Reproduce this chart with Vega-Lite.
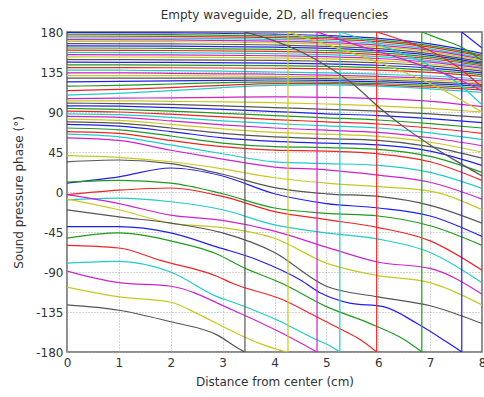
{
"$schema":"https://vega.github.io/schema/vega-lite/v6.json",
"width":415,"height":320,
"autosize":{"type":"none"},
"padding":{"left":67,"top":32,"right":2,"bottom":45},
"background":"white",
"title":{"text":"Empty waveguide, 2D, all frequencies","fontSize":12,"fontWeight":"normal","font":"DejaVu Sans","color":"#333333","offset":4},
"config":{
 "view":{"stroke":"#666666","strokeWidth":1.5},
 "axis":{"domain":false,"ticks":false,"grid":true,"gridColor":"#aaaaaa","gridDash":[1,2],"gridWidth":1,
  "labelFont":"DejaVu Sans","labelFontSize":12,"labelColor":"#333333",
  "titleFont":"DejaVu Sans","titleFontSize":12,"titleFontWeight":"normal","titleColor":"#333333"}
},
"data":{"values":[
{"k":0,"p":"a","x":0,"y":179.5},{"k":0,"p":"a","x":2,"y":179},{"k":0,"p":"a","x":4,"y":177.6},{"k":0,"p":"a","x":5,"y":176},{"k":0,"p":"a","x":6,"y":172.9},{"k":0,"p":"a","x":7,"y":166.6},{"k":0,"p":"a","x":8,"y":156},
{"k":1,"p":"a","x":0,"y":177.5},{"k":1,"p":"a","x":2,"y":177},{"k":1,"p":"a","x":4,"y":175.6},{"k":1,"p":"a","x":5,"y":174},{"k":1,"p":"a","x":6,"y":170.9},{"k":1,"p":"a","x":7,"y":164.6},{"k":1,"p":"a","x":8,"y":154},
{"k":2,"p":"a","x":0,"y":175.5},{"k":2,"p":"a","x":2,"y":175},{"k":2,"p":"a","x":4,"y":173.7},{"k":2,"p":"a","x":5,"y":172.1},{"k":2,"p":"a","x":6,"y":169.1},{"k":2,"p":"a","x":7,"y":162.9},{"k":2,"p":"a","x":8,"y":152.5},
{"k":3,"p":"a","x":0,"y":173.5},{"k":3,"p":"a","x":2,"y":173.1},{"k":3,"p":"a","x":4,"y":171.7},{"k":3,"p":"a","x":5,"y":170.1},{"k":3,"p":"a","x":6,"y":167.2},{"k":3,"p":"a","x":7,"y":161.1},{"k":3,"p":"a","x":8,"y":151},
{"k":4,"p":"a","x":0,"y":171.5},{"k":4,"p":"a","x":2,"y":171.1},{"k":4,"p":"a","x":4,"y":169.7},{"k":4,"p":"a","x":5,"y":168.2},{"k":4,"p":"a","x":6,"y":165.3},{"k":4,"p":"a","x":7,"y":159.4},{"k":4,"p":"a","x":8,"y":149.5},
{"k":5,"p":"a","x":0,"y":169.5},{"k":5,"p":"a","x":2,"y":169.1},{"k":5,"p":"a","x":4,"y":167.8},{"k":5,"p":"a","x":5,"y":166.3},{"k":5,"p":"a","x":6,"y":163.5},{"k":5,"p":"a","x":7,"y":157.7},{"k":5,"p":"a","x":8,"y":148},
{"k":6,"p":"a","x":0,"y":167},{"k":6,"p":"a","x":2,"y":166.6},{"k":6,"p":"a","x":4,"y":165.4},{"k":6,"p":"a","x":5,"y":163.9},{"k":6,"p":"a","x":6,"y":161.3},{"k":6,"p":"a","x":7,"y":155.7},{"k":6,"p":"a","x":8,"y":146.5},
{"k":7,"p":"a","x":0,"y":164.5},{"k":7,"p":"a","x":2,"y":164.1},{"k":7,"p":"a","x":4,"y":162.9},{"k":7,"p":"a","x":5,"y":161.6},{"k":7,"p":"a","x":6,"y":159},{"k":7,"p":"a","x":7,"y":153.8},{"k":7,"p":"a","x":8,"y":145},
{"k":8,"p":"a","x":0,"y":162},{"k":8,"p":"a","x":2,"y":161.6},{"k":8,"p":"a","x":4,"y":160.5},{"k":8,"p":"a","x":5,"y":159.2},{"k":8,"p":"a","x":6,"y":156.8},{"k":8,"p":"a","x":7,"y":151.8},{"k":8,"p":"a","x":8,"y":143.5},
{"k":9,"p":"a","x":0,"y":159.5},{"k":9,"p":"a","x":2,"y":159.2},{"k":9,"p":"a","x":4,"y":158.1},{"k":9,"p":"a","x":5,"y":156.9},{"k":9,"p":"a","x":6,"y":154.6},{"k":9,"p":"a","x":7,"y":149.9},{"k":9,"p":"a","x":8,"y":142},
{"k":10,"p":"a","x":0,"y":157},{"k":10,"p":"a","x":2,"y":156.7},{"k":10,"p":"a","x":4,"y":155.7},{"k":10,"p":"a","x":5,"y":154.5},{"k":10,"p":"a","x":6,"y":152.4},{"k":10,"p":"a","x":7,"y":147.9},{"k":10,"p":"a","x":8,"y":140.5},
{"k":11,"p":"a","x":0,"y":154.5},{"k":11,"p":"a","x":2,"y":154.2},{"k":11,"p":"a","x":4,"y":153.3},{"k":11,"p":"a","x":5,"y":152.2},{"k":11,"p":"a","x":6,"y":150.2},{"k":11,"p":"a","x":7,"y":146},{"k":11,"p":"a","x":8,"y":139},
{"k":12,"p":"a","x":0,"y":152},{"k":12,"p":"a","x":2,"y":151.7},{"k":12,"p":"a","x":4,"y":150.8},{"k":12,"p":"a","x":5,"y":149.8},{"k":12,"p":"a","x":6,"y":147.9},{"k":12,"p":"a","x":7,"y":144},{"k":12,"p":"a","x":8,"y":137.5},
{"k":13,"p":"a","x":0,"y":149},{"k":13,"p":"a","x":2,"y":148.7},{"k":13,"p":"a","x":4,"y":148},{"k":13,"p":"a","x":5,"y":147.1},{"k":13,"p":"a","x":6,"y":145.4},{"k":13,"p":"a","x":7,"y":141.9},{"k":13,"p":"a","x":8,"y":136},
{"k":14,"p":"a","x":0,"y":146},{"k":14,"p":"a","x":2,"y":145.8},{"k":14,"p":"a","x":4,"y":145},{"k":14,"p":"a","x":5,"y":144.2},{"k":14,"p":"a","x":6,"y":142.6},{"k":14,"p":"a","x":7,"y":139.4},{"k":14,"p":"a","x":8,"y":134},
{"k":15,"p":"a","x":0,"y":143},{"k":15,"p":"a","x":2,"y":142.8},{"k":15,"p":"a","x":4,"y":142.1},{"k":15,"p":"a","x":5,"y":141.4},{"k":15,"p":"a","x":6,"y":139.9},{"k":15,"p":"a","x":7,"y":137},{"k":15,"p":"a","x":8,"y":132},
{"k":16,"p":"a","x":0,"y":140},{"k":16,"p":"a","x":2,"y":139.8},{"k":16,"p":"a","x":4,"y":139.2},{"k":16,"p":"a","x":5,"y":138.5},{"k":16,"p":"a","x":6,"y":137.2},{"k":16,"p":"a","x":7,"y":134.5},{"k":16,"p":"a","x":8,"y":130},
{"k":17,"p":"a","x":0,"y":137},{"k":17,"p":"a","x":1,"y":137},{"k":17,"p":"a","x":2,"y":136.5},{"k":17,"p":"a","x":3,"y":136},{"k":17,"p":"a","x":4,"y":135},{"k":17,"p":"a","x":5,"y":134},{"k":17,"p":"a","x":6,"y":132.5},{"k":17,"p":"a","x":7,"y":130.5},{"k":17,"p":"a","x":8,"y":127},
{"k":18,"p":"a","x":0,"y":134},{"k":18,"p":"a","x":1,"y":134},{"k":18,"p":"a","x":2,"y":133.5},{"k":18,"p":"a","x":3,"y":133},{"k":18,"p":"a","x":4,"y":132.5},{"k":18,"p":"a","x":5,"y":131.5},{"k":18,"p":"a","x":6,"y":130},{"k":18,"p":"a","x":7,"y":128},{"k":18,"p":"a","x":8,"y":125},
{"k":19,"p":"a","x":0,"y":131},{"k":19,"p":"a","x":1,"y":131},{"k":19,"p":"a","x":2,"y":131},{"k":19,"p":"a","x":3,"y":130.5},{"k":19,"p":"a","x":4,"y":130},{"k":19,"p":"a","x":5,"y":129.5},{"k":19,"p":"a","x":6,"y":128},{"k":19,"p":"a","x":7,"y":126},{"k":19,"p":"a","x":8,"y":123},
{"k":20,"p":"a","x":0,"y":128},{"k":20,"p":"a","x":1,"y":128},{"k":20,"p":"a","x":2,"y":128},{"k":20,"p":"a","x":3,"y":128},{"k":20,"p":"a","x":4,"y":128},{"k":20,"p":"a","x":5,"y":127.5},{"k":20,"p":"a","x":6,"y":126},{"k":20,"p":"a","x":7,"y":124},{"k":20,"p":"a","x":8,"y":121},
{"k":21,"p":"a","x":0,"y":124},{"k":21,"p":"a","x":1,"y":124.5},{"k":21,"p":"a","x":2,"y":125},{"k":21,"p":"a","x":3,"y":125.5},{"k":21,"p":"a","x":4,"y":126},{"k":21,"p":"a","x":5,"y":125.5},{"k":21,"p":"a","x":6,"y":124},{"k":21,"p":"a","x":7,"y":122},{"k":21,"p":"a","x":8,"y":119},
{"k":22,"p":"a","x":0,"y":119},{"k":22,"p":"a","x":1,"y":120},{"k":22,"p":"a","x":2,"y":121.5},{"k":22,"p":"a","x":3,"y":123},{"k":22,"p":"a","x":4,"y":124},{"k":22,"p":"a","x":5,"y":123.5},{"k":22,"p":"a","x":6,"y":122},{"k":22,"p":"a","x":7,"y":120},{"k":22,"p":"a","x":8,"y":117},
{"k":23,"p":"a","x":0,"y":114},{"k":23,"p":"a","x":1,"y":115.5},{"k":23,"p":"a","x":2,"y":117.5},{"k":23,"p":"a","x":3,"y":120},{"k":23,"p":"a","x":4,"y":122},{"k":23,"p":"a","x":5,"y":122},{"k":23,"p":"a","x":6,"y":120.5},{"k":23,"p":"a","x":7,"y":118},{"k":23,"p":"a","x":8,"y":115},
{"k":24,"p":"a","x":0,"y":109},{"k":24,"p":"a","x":1,"y":111},{"k":24,"p":"a","x":2,"y":114},{"k":24,"p":"a","x":3,"y":117.5},{"k":24,"p":"a","x":4,"y":120},{"k":24,"p":"a","x":5,"y":120.5},{"k":24,"p":"a","x":6,"y":119},{"k":24,"p":"a","x":7,"y":116},{"k":24,"p":"a","x":8,"y":112},
{"k":25,"p":"a","x":0,"y":105},{"k":25,"p":"a","x":1,"y":105.5},{"k":25,"p":"a","x":2,"y":106},{"k":25,"p":"a","x":3,"y":106.5},{"k":25,"p":"a","x":4,"y":107},{"k":25,"p":"a","x":5,"y":106.5},{"k":25,"p":"a","x":6,"y":105},{"k":25,"p":"a","x":7,"y":102},{"k":25,"p":"a","x":8,"y":96},
{"k":26,"p":"a","x":0,"y":102.5},{"k":26,"p":"a","x":1,"y":102.5},{"k":26,"p":"a","x":2,"y":102},{"k":26,"p":"a","x":3,"y":101.5},{"k":26,"p":"a","x":4,"y":100.5},{"k":26,"p":"a","x":5,"y":99},{"k":26,"p":"a","x":6,"y":97},{"k":26,"p":"a","x":7,"y":94},{"k":26,"p":"a","x":8,"y":90},
{"k":27,"p":"a","x":0,"y":100},{"k":27,"p":"a","x":1,"y":99.5},{"k":27,"p":"a","x":2,"y":98.5},{"k":27,"p":"a","x":3,"y":97},{"k":27,"p":"a","x":4,"y":95},{"k":27,"p":"a","x":5,"y":93},{"k":27,"p":"a","x":6,"y":91},{"k":27,"p":"a","x":7,"y":88},{"k":27,"p":"a","x":8,"y":84},
{"k":28,"p":"a","x":0,"y":97},{"k":28,"p":"a","x":1,"y":96.5},{"k":28,"p":"a","x":2,"y":95},{"k":28,"p":"a","x":3,"y":93},{"k":28,"p":"a","x":4,"y":90.5},{"k":28,"p":"a","x":5,"y":88},{"k":28,"p":"a","x":6,"y":86},{"k":28,"p":"a","x":7,"y":82.5},{"k":28,"p":"a","x":8,"y":78},
{"k":29,"p":"a","x":0,"y":94},{"k":29,"p":"a","x":1,"y":93},{"k":29,"p":"a","x":2,"y":91},{"k":29,"p":"a","x":3,"y":88.5},{"k":29,"p":"a","x":4,"y":86},{"k":29,"p":"a","x":5,"y":83.5},{"k":29,"p":"a","x":6,"y":81},{"k":29,"p":"a","x":7,"y":77},{"k":29,"p":"a","x":8,"y":72},
{"k":30,"p":"a","x":0,"y":91},{"k":30,"p":"a","x":1,"y":90},{"k":30,"p":"a","x":2,"y":87.5},{"k":30,"p":"a","x":3,"y":84.5},{"k":30,"p":"a","x":4,"y":81.5},{"k":30,"p":"a","x":5,"y":79},{"k":30,"p":"a","x":6,"y":76.5},{"k":30,"p":"a","x":7,"y":72},{"k":30,"p":"a","x":8,"y":66},
{"k":31,"p":"a","x":0,"y":88},{"k":31,"p":"a","x":1,"y":87},{"k":31,"p":"a","x":2,"y":84},{"k":31,"p":"a","x":3,"y":80},{"k":31,"p":"a","x":4,"y":77},{"k":31,"p":"a","x":5,"y":74.5},{"k":31,"p":"a","x":6,"y":72},{"k":31,"p":"a","x":7,"y":66.5},{"k":31,"p":"a","x":8,"y":59},
{"k":32,"p":"a","x":0,"y":85},{"k":32,"p":"a","x":1,"y":84},{"k":32,"p":"a","x":2,"y":80},{"k":32,"p":"a","x":3,"y":75.5},{"k":32,"p":"a","x":4,"y":72},{"k":32,"p":"a","x":5,"y":69.5},{"k":32,"p":"a","x":6,"y":67},{"k":32,"p":"a","x":7,"y":61},{"k":32,"p":"a","x":8,"y":52},
{"k":33,"p":"a","x":0,"y":82},{"k":33,"p":"a","x":1,"y":80.5},{"k":33,"p":"a","x":2,"y":76},{"k":33,"p":"a","x":3,"y":71},{"k":33,"p":"a","x":4,"y":67},{"k":33,"p":"a","x":5,"y":65},{"k":33,"p":"a","x":6,"y":62.5},{"k":33,"p":"a","x":7,"y":56},{"k":33,"p":"a","x":8,"y":45},
{"k":34,"p":"a","x":0,"y":79},{"k":34,"p":"a","x":1,"y":77.5},{"k":34,"p":"a","x":2,"y":72},{"k":34,"p":"a","x":3,"y":66},{"k":34,"p":"a","x":4,"y":62},{"k":34,"p":"a","x":5,"y":60},{"k":34,"p":"a","x":6,"y":58},{"k":34,"p":"a","x":7,"y":51},{"k":34,"p":"a","x":8,"y":38},
{"k":35,"p":"a","x":0,"y":76},{"k":35,"p":"a","x":1,"y":74},{"k":35,"p":"a","x":2,"y":68},{"k":35,"p":"a","x":3,"y":61},{"k":35,"p":"a","x":4,"y":57},{"k":35,"p":"a","x":5,"y":55},{"k":35,"p":"a","x":6,"y":53},{"k":35,"p":"a","x":7,"y":46},{"k":35,"p":"a","x":8,"y":30},
{"k":36,"p":"a","x":0,"y":72},{"k":36,"p":"a","x":1,"y":70},{"k":36,"p":"a","x":2,"y":63},{"k":36,"p":"a","x":3,"y":55},{"k":36,"p":"a","x":4,"y":51},{"k":36,"p":"a","x":5,"y":50},{"k":36,"p":"a","x":6,"y":48},{"k":36,"p":"a","x":7,"y":40},{"k":36,"p":"a","x":8,"y":22},
{"k":37,"p":"a","x":0,"y":68},{"k":37,"p":"a","x":1,"y":66},{"k":37,"p":"a","x":2,"y":58},{"k":37,"p":"a","x":3,"y":51},{"k":37,"p":"a","x":4,"y":47},{"k":37,"p":"a","x":5,"y":46},{"k":37,"p":"a","x":6,"y":43},{"k":37,"p":"a","x":7,"y":34},{"k":37,"p":"a","x":8,"y":13},
{"k":38,"p":"a","x":0,"y":65},{"k":38,"p":"a","x":1,"y":62},{"k":38,"p":"a","x":2,"y":53},{"k":38,"p":"a","x":3,"y":43},{"k":38,"p":"a","x":4,"y":34},{"k":38,"p":"a","x":5,"y":32},{"k":38,"p":"a","x":6,"y":30},{"k":38,"p":"a","x":7,"y":22},{"k":38,"p":"a","x":8,"y":4},
{"k":39,"p":"a","x":0,"y":61},{"k":39,"p":"a","x":1,"y":58},{"k":39,"p":"a","x":2,"y":47},{"k":39,"p":"a","x":3,"y":37},{"k":39,"p":"a","x":4,"y":28},{"k":39,"p":"a","x":5,"y":25},{"k":39,"p":"a","x":6,"y":19},{"k":39,"p":"a","x":7,"y":11},{"k":39,"p":"a","x":8,"y":-8},
{"k":40,"p":"a","x":0,"y":41},{"k":40,"p":"a","x":1,"y":39},{"k":40,"p":"a","x":2,"y":34},{"k":40,"p":"a","x":3,"y":26},{"k":40,"p":"a","x":4,"y":16},{"k":40,"p":"a","x":5,"y":10},{"k":40,"p":"a","x":6,"y":6},{"k":40,"p":"a","x":7,"y":1},{"k":40,"p":"a","x":8,"y":-20},
{"k":41,"p":"a","x":0,"y":34},{"k":41,"p":"a","x":1,"y":36},{"k":41,"p":"a","x":2,"y":32},{"k":41,"p":"a","x":3,"y":20},{"k":41,"p":"a","x":4,"y":5},{"k":41,"p":"a","x":5,"y":-2},{"k":41,"p":"a","x":6,"y":-5},{"k":41,"p":"a","x":7,"y":-15},{"k":41,"p":"a","x":8,"y":-35},
{"k":42,"p":"a","x":0,"y":10},{"k":42,"p":"a","x":1,"y":17},{"k":42,"p":"a","x":2,"y":27},{"k":42,"p":"a","x":3,"y":18},{"k":42,"p":"a","x":4,"y":-2},{"k":42,"p":"a","x":5,"y":-13},{"k":42,"p":"a","x":6,"y":-18},{"k":42,"p":"a","x":7,"y":-27},{"k":42,"p":"a","x":8,"y":-50},
{"k":43,"p":"a","x":0,"y":11},{"k":43,"p":"a","x":1,"y":13},{"k":43,"p":"a","x":2,"y":10},{"k":43,"p":"a","x":3,"y":-2},{"k":43,"p":"a","x":4,"y":-18},{"k":43,"p":"a","x":5,"y":-24},{"k":43,"p":"a","x":6,"y":-27},{"k":43,"p":"a","x":7,"y":-38},{"k":43,"p":"a","x":8,"y":-60},
{"k":44,"p":"a","x":0,"y":-3},{"k":44,"p":"a","x":1,"y":2},{"k":44,"p":"a","x":2,"y":4.5},{"k":44,"p":"a","x":3,"y":-5},{"k":44,"p":"a","x":4,"y":-22},{"k":44,"p":"a","x":5,"y":-31},{"k":44,"p":"a","x":6,"y":-40},{"k":44,"p":"a","x":7,"y":-55},{"k":44,"p":"a","x":8,"y":-88},
{"k":45,"p":"a","x":0,"y":-9},{"k":45,"p":"a","x":1,"y":-7},{"k":45,"p":"a","x":2,"y":-11},{"k":45,"p":"a","x":3,"y":-20},{"k":45,"p":"a","x":4,"y":-37},{"k":45,"p":"a","x":5,"y":-46},{"k":45,"p":"a","x":6,"y":-53},{"k":45,"p":"a","x":7,"y":-68},{"k":45,"p":"a","x":8,"y":-102},
{"k":46,"p":"a","x":0,"y":-3},{"k":46,"p":"a","x":1,"y":-13},{"k":46,"p":"a","x":2,"y":-26},{"k":46,"p":"a","x":3,"y":-32},{"k":46,"p":"a","x":4,"y":-44},{"k":46,"p":"a","x":5,"y":-62},{"k":46,"p":"a","x":6,"y":-79},{"k":46,"p":"a","x":7,"y":-86},{"k":46,"p":"a","x":8,"y":-115},
{"k":47,"p":"a","x":0,"y":-8},{"k":47,"p":"a","x":1,"y":-20},{"k":47,"p":"a","x":2,"y":-35},{"k":47,"p":"a","x":3,"y":-40},{"k":47,"p":"a","x":4,"y":-52},{"k":47,"p":"a","x":5,"y":-80},{"k":47,"p":"a","x":6,"y":-94},{"k":47,"p":"a","x":7,"y":-102},{"k":47,"p":"a","x":8,"y":-127},
{"k":48,"p":"a","x":0,"y":-20},{"k":48,"p":"a","x":1,"y":-28},{"k":48,"p":"a","x":2,"y":-35},{"k":48,"p":"a","x":3,"y":-46},{"k":48,"p":"a","x":4,"y":-68},{"k":48,"p":"a","x":5,"y":-106},{"k":48,"p":"a","x":6,"y":-118},{"k":48,"p":"a","x":7,"y":-128},{"k":48,"p":"a","x":8,"y":-148},
{"k":49,"p":"a","x":0,"y":-39},{"k":49,"p":"a","x":1,"y":-39},{"k":49,"p":"a","x":2,"y":-46},{"k":49,"p":"a","x":2.9,"y":-62},{"k":49,"p":"a","x":3.7,"y":-77},{"k":49,"p":"a","x":4.5,"y":-99},{"k":49,"p":"a","x":4.9,"y":-114},{"k":49,"p":"a","x":5.45,"y":-125},{"k":49,"p":"a","x":6.1,"y":-129},{"k":49,"p":"a","x":6.75,"y":-148},{"k":49,"p":"a","x":7.3,"y":-168},{"k":49,"p":"a","x":7.61,"y":-180},
{"k":49,"p":"w","x":7.61,"y":-180},{"k":49,"p":"w","x":7.61,"y":180},
{"k":49,"p":"b","x":7.61,"y":180},{"k":49,"p":"b","x":8,"y":162},
{"k":50,"p":"a","x":0,"y":-52},{"k":50,"p":"a","x":1,"y":-46},{"k":50,"p":"a","x":2,"y":-55},{"k":50,"p":"a","x":2.9,"y":-70},{"k":50,"p":"a","x":3.4,"y":-85},{"k":50,"p":"a","x":4.15,"y":-103},{"k":50,"p":"a","x":5,"y":-129},{"k":50,"p":"a","x":5.8,"y":-147},{"k":50,"p":"a","x":6.5,"y":-166},{"k":50,"p":"a","x":6.84,"y":-180},
{"k":50,"p":"w","x":6.84,"y":-180},{"k":50,"p":"w","x":6.84,"y":180},
{"k":50,"p":"b","x":6.84,"y":180},{"k":50,"p":"b","x":7.2,"y":172},{"k":50,"p":"b","x":7.6,"y":163},{"k":50,"p":"b","x":8,"y":148},
{"k":51,"p":"a","x":0,"y":-60},{"k":51,"p":"a","x":1,"y":-63},{"k":51,"p":"a","x":1.8,"y":-77},{"k":51,"p":"a","x":2.9,"y":-95},{"k":51,"p":"a","x":3.2,"y":-103},{"k":51,"p":"a","x":4.15,"y":-121},{"k":51,"p":"a","x":4.8,"y":-140},{"k":51,"p":"a","x":5.3,"y":-155},{"k":51,"p":"a","x":5.65,"y":-166},{"k":51,"p":"a","x":5.97,"y":-180},
{"k":51,"p":"w","x":5.97,"y":-180},{"k":51,"p":"w","x":5.97,"y":180},
{"k":51,"p":"b","x":5.97,"y":180},{"k":51,"p":"b","x":6.5,"y":170},{"k":51,"p":"b","x":7,"y":159},{"k":51,"p":"b","x":7.5,"y":142},{"k":51,"p":"b","x":8,"y":118},
{"k":52,"p":"a","x":0,"y":-80},{"k":52,"p":"a","x":1,"y":-78},{"k":52,"p":"a","x":2,"y":-90},{"k":52,"p":"a","x":2.9,"y":-118},{"k":52,"p":"a","x":3.2,"y":-124},{"k":52,"p":"a","x":4.05,"y":-144},{"k":52,"p":"a","x":4.8,"y":-166},{"k":52,"p":"a","x":5.1,"y":-174},{"k":52,"p":"a","x":5.26,"y":-180},
{"k":52,"p":"w","x":5.26,"y":-180},{"k":52,"p":"w","x":5.26,"y":180},
{"k":52,"p":"b","x":5.26,"y":180},{"k":52,"p":"b","x":6,"y":166},{"k":52,"p":"b","x":7,"y":142},{"k":52,"p":"b","x":7.5,"y":124},{"k":52,"p":"b","x":8,"y":98},
{"k":53,"p":"a","x":0,"y":-89},{"k":53,"p":"a","x":1,"y":-102},{"k":53,"p":"a","x":2,"y":-106},{"k":53,"p":"a","x":3.2,"y":-133},{"k":53,"p":"a","x":4.15,"y":-159},{"k":53,"p":"a","x":4.6,"y":-173},{"k":53,"p":"a","x":4.82,"y":-180},
{"k":53,"p":"w","x":4.82,"y":-180},{"k":53,"p":"w","x":4.82,"y":180},
{"k":53,"p":"b","x":4.82,"y":180},{"k":53,"p":"b","x":5.5,"y":167},{"k":53,"p":"b","x":6.5,"y":149},{"k":53,"p":"b","x":7.5,"y":128},{"k":53,"p":"b","x":8,"y":114},
{"k":54,"p":"a","x":0,"y":-107},{"k":54,"p":"a","x":1,"y":-118},{"k":54,"p":"a","x":2,"y":-124},{"k":54,"p":"a","x":2.55,"y":-138},{"k":54,"p":"a","x":3.2,"y":-157},{"k":54,"p":"a","x":3.7,"y":-170},{"k":54,"p":"a","x":4.05,"y":-177},{"k":54,"p":"a","x":4.26,"y":-180},
{"k":54,"p":"w","x":4.26,"y":-180},{"k":54,"p":"w","x":4.26,"y":180},
{"k":54,"p":"b","x":4.26,"y":180},{"k":54,"p":"b","x":5,"y":166},{"k":54,"p":"b","x":6,"y":146},{"k":54,"p":"b","x":7,"y":122},{"k":54,"p":"b","x":8,"y":90},
{"k":55,"p":"a","x":0,"y":-127},{"k":55,"p":"a","x":1,"y":-133},{"k":55,"p":"a","x":2,"y":-146},{"k":55,"p":"a","x":2.9,"y":-161},{"k":55,"p":"a","x":3.33,"y":-177},{"k":55,"p":"a","x":3.43,"y":-180},
{"k":55,"p":"w","x":3.43,"y":-180},{"k":55,"p":"w","x":3.43,"y":180},
{"k":55,"p":"b","x":3.43,"y":180},{"k":55,"p":"b","x":4,"y":170},{"k":55,"p":"b","x":4.5,"y":158},{"k":55,"p":"b","x":5,"y":142},{"k":55,"p":"b","x":5.5,"y":122},{"k":55,"p":"b","x":6,"y":96},{"k":55,"p":"b","x":6.5,"y":73},{"k":55,"p":"b","x":7,"y":53},{"k":55,"p":"b","x":7.5,"y":35},{"k":55,"p":"b","x":8,"y":18}
]},
"mark":{"type":"line","interpolate":"monotone","strokeWidth":1.2,"clip":true},
"encoding":{
 "x":{"field":"x","type":"quantitative","scale":{"domain":[0,8],"nice":false},
  "axis":{"title":"Distance from center (cm)","values":[0,1,2,3,4,5,6,7,8],"labelPadding":5,"titlePadding":8,"labelFlush":false}},
 "y":{"field":"y","type":"quantitative","scale":{"domain":[-180,180],"nice":false},
  "axis":{"title":"Sound pressure phase (°)","values":[-180,-135,-90,-45,0,45,90,135,180],"labelPadding":4,"titlePadding":10,"labelFlush":false,"labelExpr":"replace(datum.label, '−', '-')"}},
 "color":{"field":"k","type":"ordinal","scale":{"range":["#2020e8","#1e9a1e","#ee2424","#22caca","#cc22cc","#c8c822","#555555"]},"legend":null},
 "detail":{"field":"p"}
}
}
